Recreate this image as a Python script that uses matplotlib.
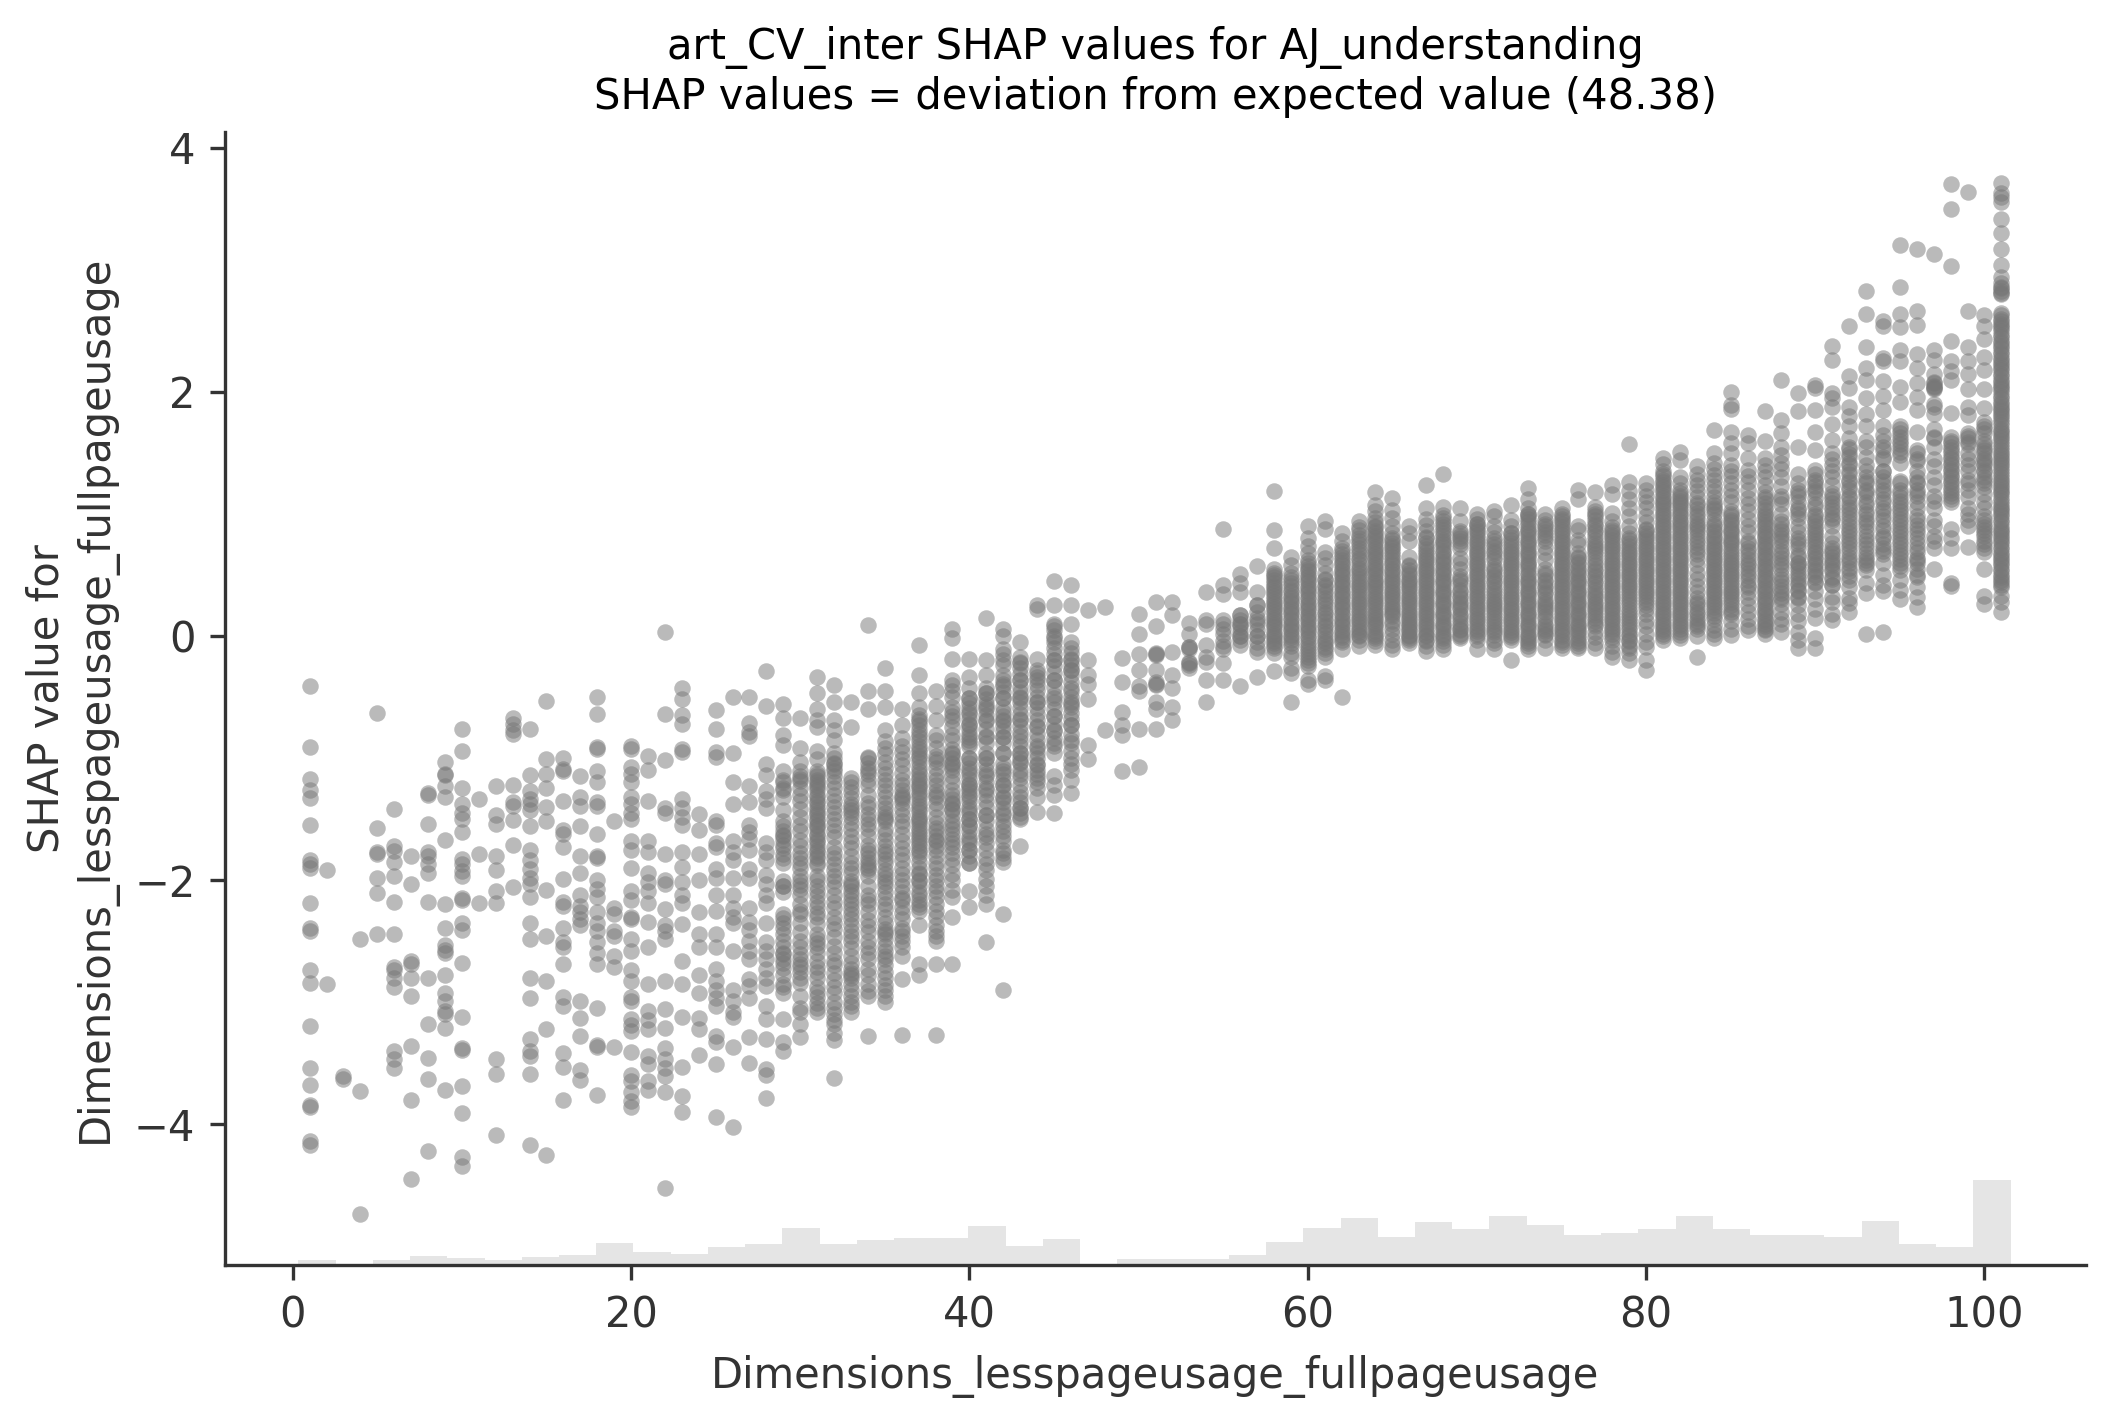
import matplotlib
matplotlib.use("Agg")
import matplotlib.pyplot as plt

TITLE = "art_CV_inter SHAP values for AJ_understanding\nSHAP values = deviation from expected value (48.38)"
X_LABEL = "Dimensions_lesspageusage_fullpageusage"
Y_LABEL = "SHAP value for\nDimensions_lesspageusage_fullpageusage"
x_ticks = [0, 20, 40, 60, 80, 100]
y_ticks = [-4, -2, 0, 2, 4]

y01 = [-0.41,-0.91,-1.17,-1.26,-1.33,-1.55,-1.84,-1.87,-1.90,-2.19,-2.39,-2.42,-2.74,-2.84,-3.20,-3.54,-3.68,-3.84,-3.86,-4.14,-4.17]
y02 = [-1.92,-2.85]
y03 = [-3.61,-3.63]
y04 = [-2.48,-3.73,-4.74]
y05 = [-0.63,-1.57,-1.77,-1.79,-1.98,-2.11,-2.44]
y06 = [-1.42,-1.72,-1.76,-1.85,-1.97,-2.18,-2.44,-2.71,-2.74,-2.80,-2.88,-3.40,-3.47,-3.54]
y07 = [-1.80,-2.03,-2.66,-2.69,-2.80,-2.95,-3.36,-3.80,-4.45]
y08 = [-1.29,-1.30,-1.54,-1.77,-1.80,-1.87,-1.94,-2.18,-2.80,-3.18,-3.46,-3.63,-4.22]
y09 = [-1.03,-1.13,-1.14,-1.23,-1.32,-1.67,-2.20,-2.39,-2.53,-2.57,-2.60,-2.78,-2.93,-2.99,-3.07,-3.10,-3.21,-3.72]
y10 = [-0.76,-0.94,-1.25,-1.38,-1.45,-1.50,-1.61,-1.83,-1.87,-1.93,-1.97,-2.15,-2.16,-2.35,-2.41,-2.68,-3.12,-3.38,-3.39,-3.69,-3.91,-4.27,-4.34]
y11 = [-1.34,-1.79,-2.19]
y12 = [-1.23,-1.47,-1.54,-1.80,-1.92,-2.09,-2.19,-3.47,-3.59,-4.09]
y13 = [-0.67,-0.72,-0.77,-0.80,-1.22,-1.36,-1.39,-1.51,-1.71,-2.06]
y14 = [-0.76,-1.14,-1.27,-1.34,-1.38,-1.43,-1.56,-1.75,-1.84,-1.91,-1.98,-2.03,-2.14,-2.35,-2.48,-2.80,-2.97,-3.30,-3.40,-3.44,-3.59,-4.17]
y15 = [-0.53,-1.01,-1.13,-1.25,-1.40,-1.52,-2.08,-2.46,-2.83,-3.22,-4.25]
y16 = [-1.0,-1.09,-1.11,-1.35,-1.59,-1.62,-1.73,-1.99,-2.18,-2.21,-2.39,-2.51,-2.55,-2.69,-2.96,-3.03,-3.42,-3.53,-3.80]
y17 = [-1.15,-1.32,-1.39,-1.56,-1.80,-1.94,-2.12,-2.21,-2.26,-2.32,-2.37,-2.99,-3.13,-3.28,-3.56,-3.64]
y18 = [-0.50,-0.64,-0.91,-0.93,-1.11,-1.20,-1.36,-1.39,-1.62,-1.80,-1.82,-2.0,-2.07,-2.14,-2.26,-2.35,-2.42,-2.51,-2.60,-2.69,-3.05,-3.35,-3.37,-3.76]
y19 = [-1.52,-2.23,-2.28,-2.42,-2.46,-2.62,-2.71,-3.37]
y20 = [-0.90,-0.93,-1.07,-1.13,-1.20,-1.32,-1.38,-1.45,-1.50,-1.68,-1.75,-1.90,-2.09,-2.16,-2.30,-2.32,-2.48,-2.58,-2.74,-2.83,-2.96,-2.99,-3.14,-3.19,-3.24,-3.41,-3.60,-3.65,-3.74,-3.81,-3.86]
y21 = [-0.98,-1.10,-1.35,-1.68,-1.77,-1.94,-2.02,-2.09,-2.19,-2.34,-2.55,-2.85,-3.07,-3.15,-3.22,-3.44,-3.51,-3.65,-3.72]
y22 = [0.03,-0.64,-1.02,-1.41,-1.45,-1.79,-2.0,-2.03,-2.24,-2.37,-2.42,-2.48,-2.83,-3.06,-3.21,-3.38,-3.47,-3.54,-3.61,-3.74,-4.52]
y23 = [-0.43,-0.52,-0.65,-0.72,-0.93,-0.95,-1.34,-1.41,-1.48,-1.55,-1.77,-1.89,-2.02,-2.12,-2.19,-2.36,-2.66,-2.85,-3.12,-3.53,-3.77,-3.90]
y24 = [-1.46,-1.59,-1.79,-2.0,-2.26,-2.44,-2.55,-2.78,-2.93,-3.13,-3.22,-3.43]
y25 = [-0.61,-0.76,-0.95,-0.99,-1.52,-1.55,-1.70,-1.73,-1.91,-1.98,-2.12,-2.25,-2.44,-2.55,-2.73,-2.83,-2.90,-2.97,-3.03,-3.28,-3.33,-3.51,-3.94]
y26 = [-0.50,-0.96,-1.20,-1.38,-1.68,-1.77,-1.84,-1.98,-2.12,-2.23,-2.30,-2.35,-2.58,-2.90,-2.99,-3.08,-3.12,-3.37,-4.02]
y27 = [-0.50,-0.71,-0.79,-0.82,-1.23,-1.36,-1.55,-1.61,-1.66,-1.75,-1.91,-1.98,-2.23,-2.34,-2.41,-2.50,-2.58,-2.65,-2.81,-2.87,-2.97,-3.29,-3.50]
y28 = [-0.29,-0.57,-1.05,-1.14,-1.27,-1.34,-1.41,-1.70,-1.77,-1.84,-1.96,-2.03,-2.12,-2.19,-2.35,-2.51,-2.58,-2.65,-2.73,-2.80,-2.87,-3.03,-3.14,-3.30,-3.55,-3.60,-3.79]
y29 = [-0.56,-0.67,-0.81,-0.89,-1.11,-1.18,-1.26,-1.32,-1.43,-1.56,-1.64,-1.71,-1.79,-1.86,-2.01,-2.05,-2.28,-2.35,-2.44,-2.50,-2.61,-2.65,-2.88,-2.93,-3.14,-3.33,-3.40,
       -1.52,-1.6,-1.63,-1.67,-1.74,-1.82,-2.31,-2.39,
       -1.2,-1.25,-2.05,-2.1,-2.55,-2.6,-2.68,-2.72,-2.78,-2.85]
y30 = [-0.67,-0.92,-1.03,-1.11,-1.17,-1.35,-1.48,-1.60,-1.67,-1.82,-1.90,-2.01,-2.07,-2.28,-2.43,-2.50,-2.61,-2.69,-2.71,-2.84,-2.95,-3.08,-3.18,-3.29,
       -1.97,-2.04,-2.12,-1.15,-1.19,
       -1.25,-1.3,-1.42,-1.55,-1.72,-1.78,-1.86,-2.2,-2.25,-2.35,-2.55,-2.65,-2.75,-2.8,-3.05]
y31 = [-0.34,-0.47,-0.60,-0.69,-0.75,-0.94,-1.01,-1.13,-1.18,-1.24,-1.30,-1.37,-1.45,-1.50,-1.56,-1.64,-1.69,-1.75,-1.80,-1.88,-1.97,-2.09,-2.18,-2.27,-2.44,-2.52,-2.71,-2.88,-3.01,-3.08,
       -1.11,-1.15,-1.2,-1.26,-1.32,-1.35,-1.4,-1.47,-1.52,-1.58,-1.62,-1.67,-1.72,-1.77,-1.82,-1.86,-1.22,-1.43,-1.55,
       -2.0,-2.05,-2.13,-2.22,-2.3,-2.36,-2.48,-2.55,-2.6,-2.66,-2.75,-2.8,-2.92,-2.96,-3.05]
y32 = [-0.40,-0.54,-0.69,-0.77,-0.85,-1.0,-1.05,-1.15,-1.30,-1.45,-1.50,-1.73,-1.82,-2.01,-2.18,-2.35,-2.54,-2.76,-2.93,-3.05,-3.18,-3.31,-3.62,
       -0.96,-1.04,-1.08,-1.11,
       -1.2,-1.25,-1.35,-1.4,-1.55,-1.6,-1.65,-1.78,-1.87,-1.92,-1.97,-2.06,-2.12,-2.23,-2.3,-2.4,-2.47,-2.6,-2.66,-2.7,-2.82,-2.88,-3.0,-3.1,-3.15,-3.25]
y33 = [-0.54,-0.75,-1.16,-1.28,-1.43,-1.48,-1.64,-1.69,-1.86,-1.94,-2.03,-2.12,-2.28,-2.37,-2.46,-2.73,-2.78,-2.90,-3.03,-3.08,
       -2.01,-2.05,-2.09,-2.16,-2.76,-2.8,-1.4,-1.45,
       -1.2,-1.24,-1.33,-1.38,-1.53,-1.58,-1.74,-1.8,-1.9,-2.2,-2.24,-2.32,-2.42,-2.5,-2.56,-2.62,-2.68,-2.85,-2.95,-3.0]
y34 = [0.09,-0.45,-0.60,-0.99,-1.11,-1.22,-1.37,-1.54,-1.64,-1.75,-1.82,-1.90,-1.97,-2.12,-2.33,-2.43,-2.50,-2.73,-2.91,-3.28,
       -1.71,-1.78,-1.85,-1.88,-1.92,-1.0,-1.04,-1.08,-1.13,-1.18,-1.3,
       -1.4,-1.46,-1.5,-1.58,-2.05,-2.16,-2.2,-2.26,-2.38,-2.55,-2.6,-2.65,-2.78,-2.85,-2.95]
y35 = [-0.26,-0.45,-0.58,-0.77,-0.86,-1.03,-1.13,-1.22,-1.45,-1.50,-1.67,-1.79,-1.92,-2.05,-2.24,-2.44,-2.54,-2.65,-2.86,-3.0,
       -1.37,-1.41,-1.48,-1.52,-1.86,-1.95,-2.4,-2.43,
       -0.92,-0.97,-1.08,-1.18,-1.27,-1.32,-1.58,-1.62,-1.72,-1.76,-1.83,-1.98,-2.02,-2.1,-2.15,-2.2,-2.3,-2.35,-2.48,-2.58,-2.62,-2.7,-2.75,-2.8,-2.9,-2.95]
y36 = [-0.60,-0.73,-0.84,-1.01,-1.22,-1.32,-1.56,-1.79,-1.90,-2.05,-2.16,-2.27,-2.39,-2.46,-2.81,-3.27,
       -1.26,-1.3,-1.34,-1.37,-2.1,-2.15,
       -0.9,-0.95,-1.06,-1.12,-1.18,-1.42,-1.47,-1.52,-1.62,-1.68,-1.74,-1.84,-1.95,-2.0,-2.22,-2.32,-2.42,-2.5,-2.55,-2.62]
y37 = [-0.07,-0.32,-0.47,-0.58,-0.68,-0.77,-0.86,-0.95,-1.0,-1.11,-1.18,-1.23,-1.28,-1.37,-1.42,-1.48,-1.54,-1.60,-1.67,-1.72,-1.77,-1.94,-2.01,-2.12,-2.22,-2.37,-2.69,-2.78,
       -0.65,-0.7,-0.73,-0.8,-0.83,-0.9,-0.93,-0.98,-1.03,-1.07,-1.13,-1.16,-1.21,-1.25,-1.3,-1.33,-1.39,-1.44,-1.5,-1.52,-1.57,-1.62,-1.65,-1.7,-1.75,-1.8,-1.85,-1.9,-1.95,-2.0,-2.05,-2.1,-2.16,-2.2,-2.25]
y38 = [-0.45,-0.57,-0.69,-0.81,-1.01,-1.22,-1.30,-1.37,-1.60,-1.67,-1.75,-1.86,-1.96,-2.09,-2.20,-2.37,-2.50,-2.69,-3.27,
       -1.64,-1.68,-1.72,-0.98,-1.03,-1.27,-1.32,
       -0.85,-0.92,-1.08,-1.14,-1.18,-1.42,-1.48,-1.53,-1.57,-1.8,-1.9,-2.0,-2.05,-2.14,-2.25,-2.3,-2.42,-2.46]
y39 = [0.06,-0.02,-0.19,-0.36,-0.58,-0.69,-0.81,-0.96,-1.05,-1.26,-1.37,-1.43,-1.58,-1.73,-1.88,-2.14,-2.30,-2.69,
       -0.93,-0.97,-1.0,-1.04,-1.07,-1.3,-1.34,-1.38,-1.42,-1.47,
       -0.4,-0.45,-0.5,-0.62,-0.66,-0.75,-0.85,-1.1,-1.15,-1.2,-1.52,-1.55,-1.62,-1.66,-1.7,-1.78,-1.83,-1.95,-2.0,-2.08]
y40 = [-0.19,-0.34,-0.43,-0.51,-0.62,-0.73,-0.83,-0.90,-1.0,-1.11,-1.22,-1.27,-1.32,-1.43,-1.50,-1.56,-1.67,-1.75,-1.86,-2.09,-2.22,
       -0.51,-0.55,-0.59,-0.64,-0.68,-0.72,-0.76,-0.8,-0.85,-0.88,-1.0,-1.04,-1.08,-1.13,-1.17,-1.21,-1.25,-1.3,-1.35,-1.4,-1.45,-1.5,-1.55,-1.6,-1.65,-1.7,-1.75,-1.8,-1.86]
y41 = [0.15,-0.20,-0.32,-0.47,-0.58,-0.69,-0.83,-1.0,-1.13,-1.26,-1.47,-1.65,-1.82,-1.99,-2.20,-2.51,
       -0.43,-0.47,-0.52,-0.56,-0.6,-0.65,-0.7,-0.76,-0.82,-0.88,-0.96,-1.0,-1.05,-1.1,-1.15,-1.2,-1.25,-1.3,-1.35,-1.4,-1.47,
       -1.52,-1.58,-1.62,-1.7,-1.75,-1.87,-1.92,-2.05,-2.12]
y42 = [0.06,0.0,-0.11,-0.24,-0.39,-0.51,-0.69,-0.83,-0.96,-1.11,-1.22,-1.33,-1.45,-1.60,-1.75,-1.82,-2.28,-2.90,
       -0.32,-0.36,-0.41,-0.46,-0.51,-0.66,-0.7,-0.74,-0.78,-0.83,-0.88,-0.96,-1.04,-1.08,-1.13,-1.18,-1.22,-1.27,-1.32,-1.36,-1.41,-1.47,
       -1.52,-1.56,-1.64,-1.68,-1.78,-1.85,-0.58,-0.62,-0.15,-0.2]
y43 = [-0.05,-0.22,-0.36,-0.51,-0.68,-0.79,-0.96,-1.03,-1.13,-1.28,-1.41,-1.48,-1.72,
       -0.17,-0.21,-0.26,-0.31,-0.36,-0.5,-0.54,-0.59,-0.64,-0.69,-0.74,-0.96,-1.0,-1.04,-1.1,-1.41,-1.45,-1.5,
       -0.42,-0.46,-0.82,-0.86,-0.9,-1.16,-1.22,-1.32,-1.36]
y44 = [0.25,0.22,-0.19,-0.28,-0.36,-0.54,-0.75,-0.92,-1.05,-1.13,-1.32,-1.44,
       -0.5,-0.54,-0.59,-0.64,-0.69,-0.74,-0.8,-0.85,-0.9,-0.96,-1.0,-1.06,
       -0.3,-0.34,-0.4,-0.44,-1.1,-1.16,-1.2,-1.25]
y45 = [0.45,0.25,0.08,-0.02,-0.20,-0.36,-0.51,-0.66,-0.77,-0.88,-1.15,-1.22,-1.30,-1.45,
       0.1,0.05,0.0,-0.05,-0.1,-0.15,-0.2,-0.25,-0.3,-0.36,-0.42,-0.48,-0.54,-0.6,-0.66,-0.72,-0.78,-0.84,-0.9,-0.96]
y46 = [0.42,0.25,0.10,-0.05,-0.19,-0.28,-0.43,-0.56,-0.73,-0.88,-1.0,-1.18,-1.29,
       -0.2,-0.24,-0.28,-0.32,-0.5,-0.54,-0.58,-0.63,-0.68,-0.73,-0.8,-0.85,-0.94,
       -0.1,-0.14,-0.38,-0.45,-1.05,-1.1]
y47 = [0.21,-0.20,-0.32,-0.39,-0.52,-0.89,-1.01]
y48 = [0.24,-0.77]
y49 = [-0.18,-0.38,-0.62,-0.73,-0.81,-1.11]
y50 = [0.18,0.02,-0.15,-0.28,-0.41,-0.45,-0.76,-1.07]
y51 = [0.28,0.08,-0.15,-0.28,-0.39,-0.54,-0.60,-0.76,-0.14,-0.16,-0.38,-0.4]
y52 = [0.28,0.17,-0.13,-0.32,-0.43,-0.58,-0.69]
y53 = [0.11,0.02,-0.09,-0.11,-0.22,-0.26,-0.09,-0.21,-0.24]
y54 = [0.36,0.13,0.10,-0.07,-0.17,-0.21,-0.36,-0.54]
y55 = [0.88,0.42,0.34,0.13,0.06,-0.04,-0.11,-0.22,-0.36,0.1,0.02,-0.08]
y56 = [0.51,0.43,0.36,0.17,0.10,0.0,-0.07,-0.41,0.17,0.13,0.1,0.07,0.03,0.0,-0.03]
y57 = [0.57,0.36,0.25,0.12,0.0,-0.13,-0.34,0.25,0.2,0.15,0.1,0.05,0.0,-0.05,-0.1]
y58 = [1.19,0.87,0.72,0.55,0.5,0.46,0.41,0.37,0.33,0.28,0.24,0.2,0.15,0.11,0.07,0.02,-0.02,-0.06,-0.1,-0.14,-0.29,
       0.52,0.48,0.43,0.39,0.35,0.3,0.26,0.22,0.17,0.13,0.09,0.04,0.0,-0.04,-0.08]
y59 = [0.65,0.58,0.52,0.48,0.43,0.38,0.33,0.29,0.24,0.2,0.15,0.1,0.06,0.01,-0.03,-0.08,-0.14,-0.17,-0.26,-0.3,-0.54,
       0.46,0.41,0.36,0.31,0.27,0.22,0.18,0.13,0.08,0.04,-0.01,-0.06]
y60 = [0.90,0.8,0.74,0.68,0.62,0.57,0.53,0.48,0.44,0.39,0.35,0.3,0.25,0.21,0.16,0.12,0.07,0.03,-0.02,-0.07,-0.12,-0.17,-0.22,-0.25,-0.36,-0.39,
       0.6,0.55,0.5,0.46,0.41,0.37,0.32,0.27,0.23,0.18,0.14,0.09,0.05,0.0,-0.05,-0.1,-0.15,-0.2]
y61 = [0.94,0.88,0.69,0.64,0.58,0.52,0.47,0.42,0.37,0.31,0.26,0.2,0.15,0.09,0.04,-0.02,-0.06,-0.11,-0.17,-0.33,-0.36,
       0.46,0.4,0.34,0.29,0.23,0.18,0.12,0.07,0.02,-0.04,-0.09,-0.14]
y62 = [0.84,0.78,0.72,0.67,0.62,0.58,0.53,0.49,0.44,0.4,0.35,0.31,0.26,0.22,0.17,0.12,0.08,0.03,-0.01,-0.05,-0.11,-0.50,
       0.7,0.65,0.6,0.55,0.51,0.46,0.42,0.37,0.33,0.28,0.24,0.19,0.14,0.1,0.05,0.01,-0.03]
y63 = [0.94,0.89,0.83,0.78,0.72,0.67,0.62,0.56,0.52,0.47,0.42,0.38,0.33,0.28,0.24,0.19,0.14,0.1,0.05,0.01,-0.03,-0.08,
       0.87,0.8,0.75,0.7,0.64,0.59,0.54,0.49,0.44,0.4,0.35,0.3,0.26,0.21,0.16,0.12,0.07,0.03,0.0]
y64 = [1.18,1.07,1.02,0.97,0.93,0.89,0.84,0.8,0.76,0.71,0.67,0.63,0.58,0.54,0.5,0.45,0.41,0.37,0.32,0.28,0.24,0.19,0.15,0.11,0.07,0.02,-0.02,-0.07,
       0.9,0.86,0.82,0.78,0.73,0.69,0.65,0.6,0.56,0.52,0.47,0.43,0.39,0.34,0.3,0.26,0.21,0.17,0.13,0.09,0.04,0.0,-0.04]
y65 = [1.13,1.03,0.97,0.9,0.84,0.79,0.74,0.7,0.65,0.6,0.55,0.51,0.46,0.42,0.37,0.33,0.29,0.24,0.2,0.16,0.1,0.06,0.02,-0.03,-0.07,-0.11,
       0.8,0.76,0.72,0.67,0.62,0.58,0.53,0.48,0.44,0.39,0.35,0.31,0.26,0.22,0.18,0.12]
y66 = [0.9,0.84,0.78,0.65,0.58,0.54,0.5,0.45,0.41,0.37,0.32,0.28,0.24,0.19,0.15,0.11,0.07,0.04,0.0,-0.03,-0.06,
       0.57,0.52,0.47,0.43,0.39,0.34,0.3,0.26,0.21,0.17,0.13,0.09,0.05,0.01,-0.02]
y67 = [1.24,1.05,0.96,0.91,0.86,0.81,0.76,0.71,0.66,0.62,0.57,0.53,0.48,0.44,0.39,0.35,0.3,0.26,0.21,0.17,0.12,0.08,0.03,0.0,-0.04,-0.08,-0.12,
       0.8,0.74,0.69,0.64,0.6,0.55,0.51,0.46,0.42,0.37,0.33,0.28,0.24,0.19,0.15,0.1,0.06,0.01,-0.03]
y68 = [1.33,1.06,0.99,0.94,0.89,0.84,0.79,0.75,0.7,0.65,0.61,0.56,0.52,0.47,0.43,0.38,0.34,0.29,0.25,0.2,0.16,0.11,0.07,0.02,-0.02,-0.07,-0.11,
       0.97,0.92,0.87,0.82,0.77,0.73,0.68,0.63,0.59,0.54,0.5,0.45,0.41,0.36,0.32,0.27,0.23,0.18,0.14,0.09,0.05,0.0,-0.04]
y69 = [1.05,0.94,0.86,0.82,0.78,0.72,0.64,0.6,0.55,0.49,0.45,0.38,0.33,0.28,0.24,0.18,0.14,0.08,0.05,0.0,-0.02,
       0.84,0.8,0.75,0.47,0.42,0.36,0.31,0.26,0.22,0.16,0.11,0.06,0.02]
y70 = [1.0,0.96,0.92,0.87,0.83,0.78,0.74,0.69,0.65,0.6,0.56,0.51,0.47,0.42,0.38,0.33,0.29,0.24,0.2,0.15,0.11,0.06,0.02,-0.03,-0.11,
       0.92,0.89,0.85,0.8,0.76,0.71,0.67,0.62,0.58,0.53,0.49,0.44,0.4,0.35,0.31,0.26,0.22,0.17,0.13,0.08,0.04,0.0]
y71 = [1.02,0.98,0.9,0.85,0.78,0.73,0.68,0.62,0.55,0.5,0.45,0.4,0.35,0.3,0.26,0.22,0.17,0.12,0.05,0.03,-0.03,-0.06,-0.11,
       0.8,0.75,0.7,0.65,0.57,0.53,0.48,0.43,0.38,0.33,0.28,0.24,0.2,0.15,0.1,0.07,0.01]
y72 = [1.07,0.95,0.9,0.84,0.79,0.74,0.69,0.65,0.6,0.56,0.51,0.46,0.42,0.37,0.32,0.28,0.23,0.19,0.14,0.1,0.05,0.01,-0.03,-0.2,
       0.84,0.81,0.76,0.71,0.67,0.62,0.58,0.53,0.48,0.44,0.39,0.34,0.3,0.25,0.21,0.16,0.12,0.07,0.03,-0.01]
y73 = [1.21,1.12,1.05,1.0,0.96,0.91,0.86,0.82,0.77,0.73,0.68,0.64,0.59,0.55,0.5,0.45,0.41,0.36,0.32,0.27,0.23,0.18,0.14,0.09,0.05,0.0,-0.04,-0.08,-0.11,
       1.0,0.98,0.93,0.88,0.84,0.79,0.75,0.7,0.66,0.61,0.57,0.52,0.47,0.43,0.38,0.34,0.29,0.25,0.2,0.16,0.11,0.07,0.02,-0.02,-0.06]
y74 = [1.0,0.95,0.9,0.85,0.78,0.73,0.68,0.62,0.55,0.52,0.46,0.41,0.36,0.3,0.26,0.22,0.16,0.1,0.06,0.01,-0.03,-0.1,
       0.92,0.88,0.83,0.8,0.5,0.44,0.39,0.34,0.28,0.24,0.2,0.14,0.08,0.04,0.02]
y75 = [1.05,1.0,0.96,0.92,0.87,0.83,0.78,0.74,0.69,0.65,0.6,0.56,0.51,0.47,0.42,0.38,0.33,0.29,0.24,0.2,0.15,0.11,0.06,0.02,-0.03,-0.07,-0.1,
       0.98,0.94,0.89,0.85,0.8,0.76,0.71,0.67,0.62,0.58,0.53,0.49,0.44,0.4,0.35,0.31,0.26,0.22,0.17,0.13,0.08,0.04,0.0,-0.05]
y76 = [1.2,1.12,0.9,0.87,0.79,0.75,0.68,0.64,0.59,0.54,0.5,0.45,0.41,0.36,0.32,0.27,0.23,0.18,0.14,0.09,0.05,0.01,-0.04,-0.08,
       0.65,0.61,0.56,0.52,0.47,0.43,0.38,0.34,0.29,0.25,0.2,0.16,0.11,0.07,0.03,-0.02,-0.06,-0.1]
y77 = [1.18,1.02,0.98,0.92,0.87,0.82,0.76,0.72,0.67,0.61,0.55,0.5,0.45,0.4,0.35,0.31,0.26,0.22,0.17,0.12,0.08,0.03,-0.01,-0.06,-0.1,
       1.06,1.0,0.95,0.9,0.85,0.79,0.74,0.7,0.64,0.58,0.53,0.48,0.43,0.38,0.33,0.28,0.24,0.2,0.15,0.1]
y78 = [1.24,1.16,1.01,0.94,0.87,0.83,0.79,0.74,0.7,0.65,0.6,0.56,0.51,0.47,0.42,0.38,0.33,0.29,0.24,0.2,0.15,0.11,0.06,0.02,-0.03,-0.08,-0.13,-0.17,
       0.89,0.85,0.81,0.76,0.72,0.67,0.62,0.58,0.53,0.49,0.44,0.4,0.35,0.31,0.26,0.22,0.17,0.13,0.08,0.04,-0.01]
y79 = [1.57,1.26,1.19,1.12,1.05,0.98,0.9,0.84,0.79,0.74,0.69,0.65,0.6,0.56,0.51,0.47,0.42,0.38,0.33,0.28,0.22,0.17,0.12,0.07,0.02,-0.04,-0.1,-0.14,-0.2,
       0.8,0.76,0.71,0.67,0.62,0.58,0.53,0.49,0.44,0.4,0.35,0.3,0.25,0.2,0.15,0.1,0.05,0.0,-0.03,-0.08]
y80 = [1.25,1.2,1.15,1.1,1.05,0.98,0.93,0.88,0.84,0.8,0.75,0.71,0.66,0.62,0.57,0.53,0.48,0.44,0.39,0.35,0.3,0.25,0.18,0.12,0.08,0.02,-0.05,-0.09,-0.2,-0.28,
       0.87,0.82,0.78,0.73,0.69,0.64,0.6,0.55,0.51,0.46,0.42,0.37,0.33,0.28,0.22]
y81 = [1.46,1.41,1.35,1.31,1.26,1.22,1.18,1.13,1.09,1.05,1.0,0.96,0.91,0.87,0.82,0.78,0.73,0.69,0.64,0.6,0.55,0.51,0.46,0.42,0.37,0.33,0.28,0.24,0.19,0.15,0.1,0.06,0.02,-0.03,
       1.33,1.28,1.24,1.2,1.15,1.11,1.07,1.02,0.98,0.93,0.89,0.84,0.8,0.75,0.71,0.66,0.62,0.57,0.53,0.48,0.44,0.39,0.35,0.3,0.26,0.21,0.17,0.12,0.08,0.04,0.0]
y82 = [1.51,1.44,1.3,1.25,1.2,1.15,1.11,1.07,1.02,0.98,0.93,0.89,0.84,0.8,0.75,0.71,0.66,0.62,0.57,0.53,0.48,0.44,0.39,0.35,0.3,0.26,0.21,0.17,0.12,0.08,0.03,-0.02,
       1.17,1.13,1.09,1.05,1.0,0.95,0.91,0.87,0.82,0.78,0.73,0.69,0.64,0.6,0.55,0.51,0.46,0.42,0.37,0.33,0.28,0.24,0.19,0.15,0.1,0.06,0.01]
y83 = [1.39,1.33,1.28,1.24,1.19,1.14,1.09,1.04,0.98,0.92,0.88,0.82,0.76,0.7,0.63,0.58,0.52,0.47,0.41,0.36,0.31,0.26,0.2,0.15,0.1,0.06,0.0,-0.17,
       1.07,1.01,0.95,0.9,0.85,0.79,0.73,0.67,0.28,0.23,0.18,0.12,0.08]
y84 = [1.69,1.5,1.42,1.37,1.32,1.28,1.23,1.19,1.14,1.1,1.05,1.0,0.92,0.87,0.82,0.78,0.73,0.69,0.64,0.6,0.55,0.51,0.46,0.42,0.37,0.33,0.28,0.24,0.19,0.14,0.09,0.05,0.02,-0.02,
       1.07,1.03,0.95,0.9,0.85,0.8,0.75,0.71,0.66,0.62,0.57,0.53,0.48,0.44,0.39,0.35,0.3,0.26,0.21,0.16]
y85 = [2.0,1.89,1.86,1.67,1.58,1.5,1.4,1.35,1.31,1.25,1.2,1.15,1.1,1.02,0.98,0.93,0.88,0.84,0.79,0.75,0.7,0.65,0.6,0.56,0.51,0.47,0.42,0.37,0.33,0.28,0.22,0.18,0.12,0.06,0.01,
       1.0,0.95,0.91,0.86,0.81,0.77,0.72,0.67,0.62,0.58,0.53,0.49,0.44,0.39,0.35,0.3,0.25,0.2]
y86 = [1.65,1.58,1.46,1.36,1.31,1.26,1.2,1.13,1.08,1.02,0.96,0.9,0.85,0.78,0.72,0.66,0.6,0.55,0.49,0.42,0.36,0.31,0.25,0.2,0.14,0.08,0.05,
       0.76,0.7,0.63,0.58,0.52,0.46,0.4]
y87 = [1.84,1.6,1.46,1.4,1.35,1.3,1.24,1.18,1.12,1.06,1.0,0.98,0.93,0.89,0.84,0.8,0.75,0.71,0.66,0.62,0.57,0.53,0.48,0.44,0.39,0.35,0.3,0.26,0.21,0.17,0.12,0.08,0.05,
       1.14,1.09,1.03,0.96,0.91,0.86,0.82,0.77,0.73,0.68,0.64,0.59,0.55,0.5,0.46,0.41,0.37,0.32,0.28,0.23,0.19,0.14,0.1,0.06,0.02]
y88 = [2.1,1.77,1.66,1.55,1.37,1.23,1.08,1.0,0.94,0.88,0.83,0.78,0.7,0.64,0.58,0.5,0.44,0.38,0.32,0.26,0.2,0.14,0.1,0.03,
       0.92,0.86,0.8,0.74,0.67,0.61,0.55,0.47,0.41,0.35,0.3,
       1.15,1.12,1.3,1.42,1.48]
y89 = [1.99,1.84,1.55,1.33,1.25,1.17,1.1,1.03,0.97,0.9,0.85,0.78,0.72,0.66,0.6,0.55,0.49,0.42,0.38,0.31,0.25,0.18,0.12,0.03,-0.03,-0.1,
       0.65,0.6,0.57,0.52,0.47,0.43,0.37,0.32,
       1.2,1.15,1.05,1.0,0.8,0.75]
y90 = [2.06,2.03,1.85,1.67,1.52,1.36,1.28,1.23,1.18,1.08,1.0,0.95,0.9,0.85,0.8,0.75,0.7,0.65,0.6,0.55,0.5,0.44,0.37,0.3,0.22,0.15,-0.02,-0.1,
       1.33,1.26,1.2,1.13,1.06,0.98,0.93,0.88,0.83,0.78,0.73,0.68,0.63,0.58,0.53,0.48,0.43]
y91 = [2.38,2.26,1.99,1.95,1.88,1.74,1.61,1.45,1.35,1.24,1.15,1.09,1.03,0.97,0.9,0.82,0.76,0.7,0.62,0.55,0.48,0.42,0.32,0.28,0.18,0.13,
       1.17,1.12,1.06,1.0,0.95,0.65,0.6,0.53,0.47,
       0.72,0.68,0.58,0.42,1.3,1.4,1.5]
y92 = [2.54,2.13,2.03,1.88,1.8,1.72,1.62,1.55,1.49,1.42,1.35,1.28,1.22,1.15,1.09,1.03,0.97,0.9,0.84,0.78,0.72,0.65,0.6,0.53,0.46,0.4,0.31,0.27,0.2,
       1.53,1.47,1.4,1.33,1.26,1.2,1.13,1.06,1.0,0.93,0.87,0.81,0.75,0.69,0.62,0.56,0.49]
y93 = [2.83,2.64,2.37,2.2,2.1,1.95,1.82,1.72,1.47,1.4,1.3,1.25,1.18,1.1,1.02,0.96,0.9,0.82,0.75,0.68,0.62,0.58,0.43,0.02,
       1.07,1.0,0.93,0.86,0.79,0.72,0.65,0.6,0.54,
       1.35,1.27,1.2,1.15,1.6,1.55,0.35]
y94 = [2.58,2.54,2.28,2.25,2.09,1.97,1.85,1.72,1.55,1.47,1.35,1.27,1.2,1.12,1.05,0.98,0.9,0.82,0.72,0.67,0.5,0.42,0.37,0.03,
       1.35,1.3,1.24,1.17,1.02,0.95,0.87,0.8,0.75,0.7,
       1.6,1.65,1.52,1.45,1.1,0.6]
y95 = [3.2,2.86,2.64,2.53,2.34,2.25,2.04,1.92,1.72,1.66,1.6,1.54,1.48,1.42,1.27,1.2,1.14,1.08,1.02,0.96,0.9,0.84,0.78,0.72,0.66,0.6,0.54,0.46,0.38,0.3,
       1.7,1.63,1.57,1.51,1.25,1.17,1.11,1.05,0.99,0.93,0.87,0.81,0.75,0.69,0.63,0.57]
y96 = [3.17,2.66,2.55,2.31,2.2,2.07,1.96,1.85,1.67,1.5,1.43,1.35,1.26,1.2,1.15,0.95,0.88,0.8,0.72,0.62,0.55,0.48,0.4,0.32,0.24,
       0.98,0.91,0.84,0.76,0.69,0.64,
       1.3,1.25,1.17,1.1,1.05,0.6,0.5,1.45,1.52]
y97 = [3.13,2.34,2.26,2.15,2.07,2.04,2.03,1.82,1.63,1.62,1.39,1.24,1.11,0.95,0.82,0.72,0.55,2.05,2.02,2.08,
       1.9,1.88,1.7,1.55,1.45,1.3,1.15,1.05,0.9,0.78]
y98 = [3.7,3.5,3.03,2.42,2.25,2.17,2.1,1.83,1.6,1.55,1.5,1.45,1.4,1.35,1.3,1.25,1.2,1.15,1.1,0.88,0.8,0.72,0.43,0.41,
       1.63,1.58,1.52,1.47,1.42,1.37,1.32,1.27,1.22,1.17,1.12]
y99 = [3.64,2.66,2.37,2.25,2.15,2.02,1.88,1.81,1.66,1.62,1.57,1.28,1.2,1.14,1.0,0.95,0.9,0.73,1.64,1.59,
       1.5,1.45,1.4,1.35,1.05,1.25]
y100 = [2.63,2.54,2.43,2.29,2.18,2.02,1.87,1.72,1.66,1.6,1.54,1.5,1.44,1.4,1.34,1.28,1.22,1.16,0.98,0.92,0.87,0.82,0.75,0.69,0.55,0.33,0.26,
        1.57,1.52,1.46,1.42,1.36,1.3,1.25,0.95,0.89,0.84,0.78,0.72,
        1.75,1.7,1.1,1.05]
y101 = [3.71,3.63,3.60,3.56,3.42,3.30,3.17,3.04,2.94,2.85,2.81,2.65,2.6,2.56,2.52,2.47,2.42,2.38,2.33,2.28,2.24,2.2,2.15,2.1,2.06,2.02,1.97,1.92,1.88,1.84,1.8,1.75,1.7,1.66,1.62,1.57,1.52,1.48,1.44,1.4,1.35,1.3,1.26,1.22,1.18,1.13,1.08,1.04,1.0,0.95,0.9,0.86,0.82,0.78,0.73,0.68,0.64,0.6,0.55,0.5,0.46,0.42,0.33,0.28,0.2,
        2.89,2.86,2.83,2.8,2.63,2.58,2.54,2.5,2.45,2.4,2.36,2.31,2.26,2.22,2.18,2.13,2.08,2.04,2.0,1.95,1.9,1.86,1.82,1.78,1.73,1.68,1.64,1.6,1.55,1.5,1.46,1.42,1.38,1.33,1.28,1.24,1.2,1.16,1.11,1.06,1.02,0.98,0.93,0.88,0.84,0.8,0.76,0.71,0.66,0.62,0.58,0.53,0.48,0.44,0.4]

y_by_x = [y01,y02,y03,y04,y05,y06,y07,y08,y09,y10,y11,y12,y13,y14,y15,y16,y17,y18,y19,y20,
          y21,y22,y23,y24,y25,y26,y27,y28,y29,y30,y31,y32,y33,y34,y35,y36,y37,y38,y39,y40,
          y41,y42,y43,y44,y45,y46,y47,y48,y49,y50,y51,y52,y53,y54,y55,y56,y57,y58,y59,y60,
          y61,y62,y63,y64,y65,y66,y67,y68,y69,y70,y71,y72,y73,y74,y75,y76,y77,y78,y79,y80,
          y81,y82,y83,y84,y85,y86,y87,y88,y89,y90,y91,y92,y93,y94,y95,y96,y97,y98,y99,y100,y101]

# histogram along the bottom, heights on a scale where the axis top is 1133
hist_start = 0.34
hist_width = 2.2
hist_heights = [5.3,0.7,5.3,9.3,7.3,5.3,8.3,10.3,22.3,13.3,11.3,18.3,21.3,37.3,21.3,25.3,27.3,27.3,39.3,19.3,26.3,1.3,
                6.3,6.3,6.3,10.3,23.3,37.3,47.3,28.3,43.3,36.3,49.3,40.3,30.3,32.3,36.3,49.3,36.3,30.3,30.3,28.3,44.3,21.3,18.3,85.3]
hist_top = 1133

fig = plt.figure(figsize=(2114/300, 1422/300), dpi=300)
ax = fig.add_axes([225/2114, 1-1265/1422, (2086-225)/2114, (1265-132)/1422])
ax2 = ax.twinx()
ax.set_zorder(ax2.get_zorder()+1)
ax.patch.set_visible(False)

lefts = [hist_start + i*hist_width for i in range(len(hist_heights))]
ax2.bar(lefts, hist_heights, width=hist_width, align="edge", color="black", alpha=0.1, linewidth=0)
ax2.set_ylim(0, hist_top)
ax2.axis("off")

for x_value, ys in enumerate(y_by_x, start=1):
    ax.scatter([x_value]*len(ys), ys, s=15.7, color="#777777", alpha=0.5, linewidths=0, zorder=3)

ax.set_xlim(-4, 106)
ax.set_ylim(-5.155, 4.13)
ax.set_xticks(x_ticks)
ax.set_yticks(y_ticks)
ax.set_yticklabels(["\u22124", "\u22122", "0", "2", "4"])
INK = "#333333"
for side in ("top", "right"):
    ax.spines[side].set_visible(False)
for side in ("left", "bottom"):
    ax.spines[side].set_color(INK)
    ax.spines[side].set_linewidth(0.8)
ax.tick_params(colors=INK, labelsize=10, length=3.6, width=0.8, pad=3.5)
ax.set_xlabel(X_LABEL, fontsize=10, color=INK, labelpad=4.5)
ax.set_ylabel(Y_LABEL, fontsize=10, color=INK, labelpad=4)
ax.set_title(TITLE, fontsize=10, color="black", pad=5.5)
fig.savefig("out.png", dpi=300)
